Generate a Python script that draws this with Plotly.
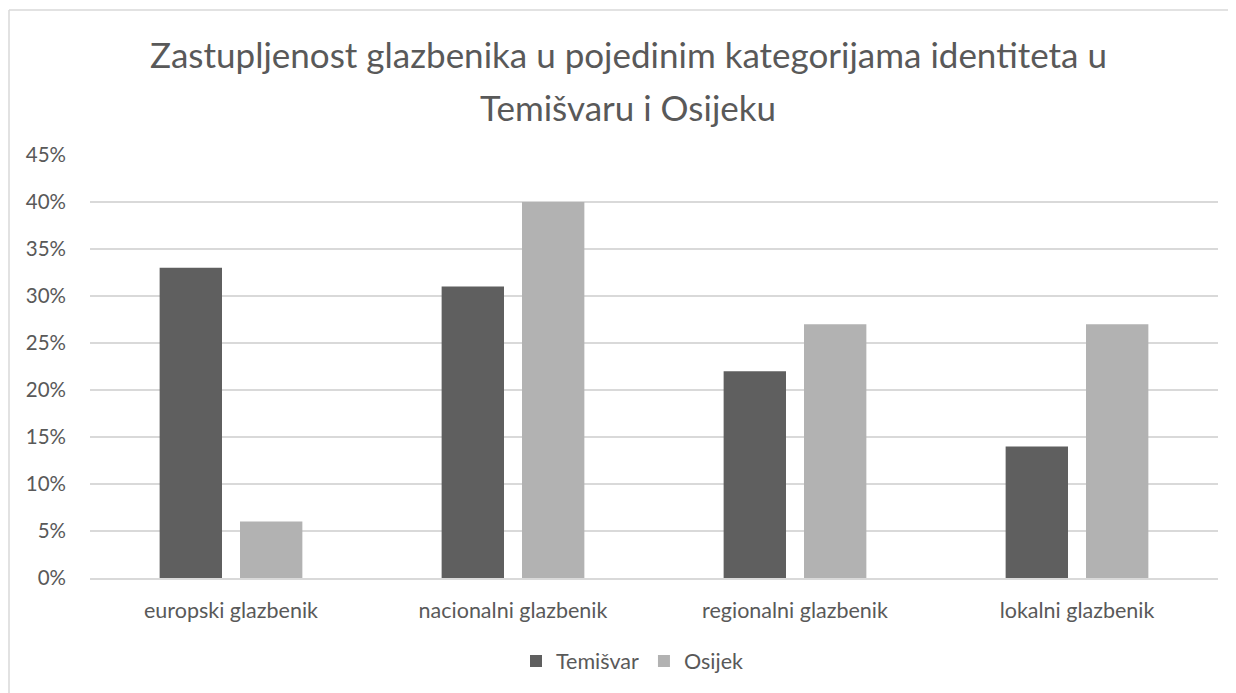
import plotly.graph_objects as go

categories = ["europski glazbenik", "nacionalni glazbenik", "regionalni glazbenik", "lokalni glazbenik"]
temisvar = [0.33, 0.31, 0.22, 0.14]
osijek = [0.06, 0.40, 0.27, 0.27]
tick_vals = [0, 0.05, 0.10, 0.15, 0.20, 0.25, 0.30, 0.35, 0.40, 0.45]
tick_text = ["0%", "5%", "10%", "15%", "20%", "25%", "30%", "35%", "40%", "45%"]
title_lines = ["Zastupljenost glazbenika u pojedinim kategorijama identiteta u", "Temišvaru i Osijeku"]

# page body has an 8px margin; work in viewport coords and convert
OFF = 8
W, H = 1236 - OFF, 693 - OFF
L, R, T, B = 90 - OFF, 18, 155 - OFF, 115
pw, ph = W - L - R, H - T - B

def px(x):
    return (x - OFF - L) / pw

def py(y):
    return (H - B - (y - OFF)) / ph

font_family = "Lato, Open Sans, sans-serif"
txt = "#595959"

fig = go.Figure()
fig.add_trace(go.Bar(name="Temišvar", x=categories, y=temisvar, marker=dict(color="#5f5f5f", line=dict(width=0))))
fig.add_trace(go.Bar(name="Osijek", x=categories, y=osijek, marker=dict(color="#b2b2b2", line=dict(width=0))))

fig.update_layout(
    width=W, height=H,
    margin=dict(l=L, r=R, t=T, b=B),
    paper_bgcolor="white", plot_bgcolor="white",
    barmode="group", bargap=0.43, bargroupgap=0.224,
    font=dict(family=font_family, color=txt, size=21),
    xaxis=dict(showgrid=False, showline=True, linecolor="#d9d9d9", linewidth=1.5,
               ticks="", ticklabelstandoff=12, tickfont=dict(size=21.5, color=txt)),
    yaxis=dict(range=[0, 0.45], tickvals=tick_vals, ticktext=tick_text,
               showgrid=True, gridcolor="#d9d9d9", gridwidth=1.5, zeroline=False,
               showline=False, ticks="", ticklabelstandoff=23,
               tickfont=dict(size=20.5, color=txt)),
    legend=dict(orientation="h", x=px(632), xanchor="center", y=py(661), yanchor="middle",
                font=dict(size=21.5, color=txt), traceorder="normal"),
    showlegend=True,
)

for line, yc in zip(title_lines, [54, 107]):
    fig.add_annotation(text=line, xref="paper", yref="paper", x=px(628), y=py(yc),
                       xanchor="center", yanchor="middle", showarrow=False,
                       font=dict(size=35, color=txt, family=font_family))

fig.add_shape(type="line", xref="paper", yref="paper", x0=px(9), x1=px(1240), y0=py(10), y1=py(10),
              line=dict(color="#d9d9d9", width=1.5))
fig.add_shape(type="line", xref="paper", yref="paper", x0=px(9), x1=px(9), y0=py(10), y1=py(700),
              line=dict(color="#d9d9d9", width=1.5))

fig.write_html("out.html")
